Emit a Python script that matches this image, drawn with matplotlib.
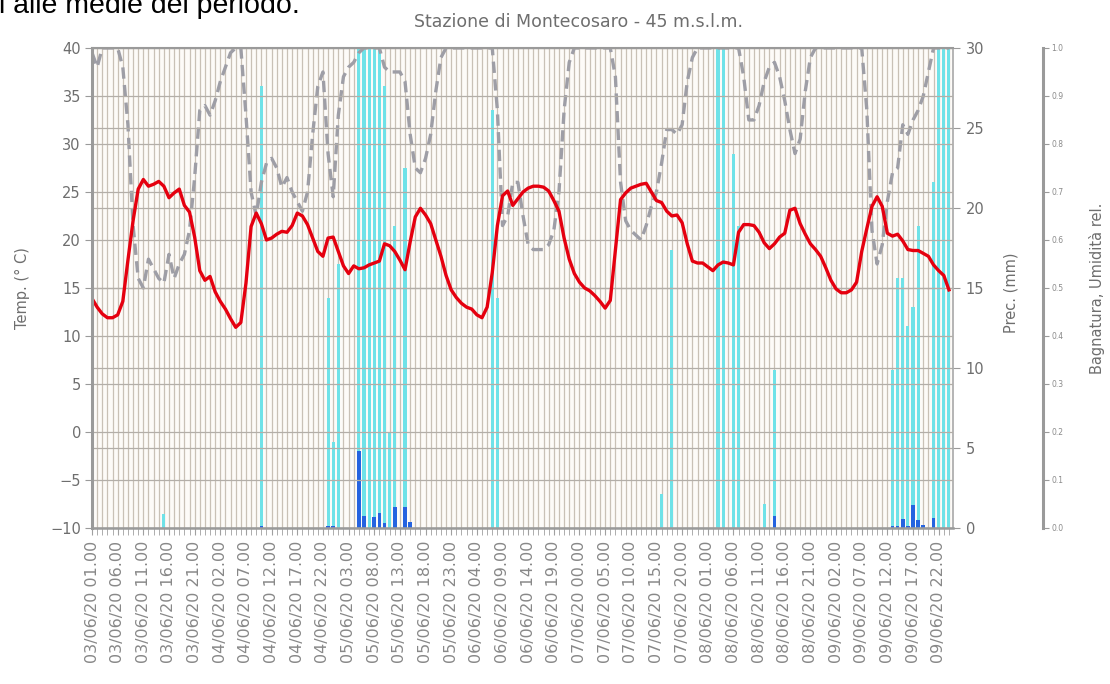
import numpy as np
import pandas as pd
import matplotlib
matplotlib.use('Agg')
import matplotlib.pyplot as plt

# dati orari: 03/06/20 01.00 -> 10/06/20 00.00
times = pd.date_range('2020-06-03 01:00', periods=168, freq='h')
hours = np.arange(len(times))

temp = [13.9, 13.0, 12.3, 11.9, 11.9, 12.2, 13.6, 17.9, 22.0, 25.3, 26.3, 25.6,
        25.8, 26.1, 25.6, 24.4, 24.9, 25.3, 23.6, 22.9, 20.3, 16.8, 15.8, 16.2,
        14.6, 13.6, 12.8, 11.8, 10.9, 11.4, 15.5, 21.4, 22.8, 21.7, 20.0, 20.2,
        20.6, 20.9, 20.8, 21.5, 22.8, 22.5, 21.6, 20.2, 18.8, 18.3, 20.2, 20.3,
        18.8, 17.3, 16.5, 17.3, 17.0, 17.1, 17.4, 17.6, 17.8, 19.6, 19.4, 18.8,
        17.9, 16.9, 19.8, 22.4, 23.3, 22.6, 21.7, 20.0, 18.3, 16.3, 14.8, 14.0,
        13.4, 13.0, 12.8, 12.2, 11.9, 13.0, 16.6, 21.5, 24.6, 25.1, 23.6, 24.3,
        25.0, 25.4, 25.6, 25.6, 25.5, 25.1, 24.1, 23.0, 20.2, 18.0, 16.5, 15.6,
        15.0, 14.7, 14.2, 13.6, 12.9, 13.7, 18.9, 24.2, 24.9, 25.4, 25.6, 25.8,
        25.9, 25.0, 24.1, 23.9, 23.0, 22.5, 22.6, 21.8, 19.6, 17.8, 17.6, 17.6,
        17.2, 16.8, 17.4, 17.7, 17.6, 17.4, 20.8, 21.6, 21.6, 21.5, 20.8, 19.7,
        19.1, 19.6, 20.3, 20.7, 23.1, 23.3, 21.7, 20.6, 19.6, 19.0, 18.3, 17.1,
        15.8, 14.9, 14.5, 14.5, 14.8, 15.6, 18.8, 21.2, 23.5, 24.5, 23.5, 20.7,
        20.4, 20.6, 19.9, 19.0, 18.9, 18.9, 18.6, 18.3, 17.4, 16.8, 16.3, 14.8]

umid = [0.99, 0.96, 1.0, 1.0, 1.0, 1.0, 0.96, 0.84, 0.63, 0.52, 0.50, 0.56,
        0.54, 0.52, 0.51, 0.57, 0.52, 0.55, 0.57, 0.62, 0.73, 0.87, 0.88, 0.86,
        0.89, 0.93, 0.96, 0.99, 1.0, 1.0, 0.86, 0.70, 0.65, 0.72, 0.76, 0.77,
        0.75, 0.71, 0.73, 0.70, 0.68, 0.66, 0.70, 0.82, 0.92, 0.95, 0.78, 0.69,
        0.86, 0.94, 0.96, 0.97, 0.99, 1.0, 1.0, 1.0, 1.0, 0.96, 0.95, 0.95,
        0.95, 0.93, 0.82, 0.75, 0.74, 0.77, 0.82, 0.91, 0.98, 1.0, 1.0, 1.0,
        1.0, 1.0, 1.0, 1.0, 1.0, 1.0, 1.0, 0.87, 0.63, 0.65, 0.72, 0.72,
        0.65, 0.59, 0.58, 0.58, 0.58, 0.59, 0.62, 0.70, 0.87, 0.97, 1.0, 1.0,
        1.0, 1.0, 1.0, 1.0, 1.0, 1.0, 0.94, 0.72, 0.64, 0.62, 0.61, 0.60,
        0.63, 0.67, 0.70, 0.76, 0.83, 0.83, 0.82, 0.84, 0.93, 0.98, 1.0, 1.0,
        1.0, 1.0, 1.0, 1.0, 1.0, 1.0, 1.0, 0.94, 0.85, 0.85, 0.88, 0.93,
        0.96, 0.97, 0.94, 0.89, 0.83, 0.78, 0.81, 0.91, 0.98, 1.0, 1.0, 1.0,
        1.0, 1.0, 1.0, 1.0, 1.0, 1.0, 1.0, 0.87, 0.62, 0.55, 0.59, 0.68,
        0.74, 0.75, 0.84, 0.82, 0.85, 0.87, 0.90, 0.95, 1.0, 1.0, 1.0, 1.0]

# bagnatura fogliare (0-1), solo le ore non nulle
bagn_ore = [14, 33, 46, 47, 48, 52, 53, 54, 55, 56, 57, 58, 59, 61,
            78, 79, 111, 113, 122, 123, 125, 126, 131, 133,
            156, 157, 158, 159, 160, 161, 164, 165, 166, 167]
bagn_val = [0.03, 0.92, 0.48, 0.18, 0.55, 1.0, 1.0, 1.0, 1.0, 1.0, 0.92, 0.2, 0.63, 0.75,
            0.87, 0.48, 0.07, 0.58, 1.0, 1.0, 0.78, 0.63, 0.05, 0.33,
            0.33, 0.52, 0.52, 0.42, 0.46, 0.63, 0.72, 1.0, 1.0, 1.0]

# precipitazione (mm)
prec_ore = [33, 46, 47, 52, 53, 55, 56, 57, 59, 61, 62, 133,
            156, 157, 158, 159, 160, 161, 162, 164]
prec_val = [0.12, 0.15, 0.15, 4.8, 0.75, 0.7, 0.95, 0.3, 1.3, 1.3, 0.35, 0.75,
            0.12, 0.12, 0.55, 0.15, 1.45, 0.5, 0.2, 0.6]

tick_ore = hours[::5]
tick_lab = [t.strftime('%d/%m/%y %H.%M') for t in times[::5]]

grigio = '#6e6e6e'
spina = '#9a9a9a'

fig = plt.figure(figsize=(11.1, 6.84), dpi=100)
ax = fig.add_axes([0.0829, 0.2281, 0.7757, 0.7018])
ax2 = ax.twinx()
ax3 = ax.twinx()

ax3.set_zorder(1)
ax2.set_zorder(2)
ax.set_zorder(3)
ax.patch.set_visible(False)
ax2.patch.set_visible(False)
ax3.patch.set_visible(True)
ax3.patch.set_facecolor('#fdfbf8')
ax3.set_axisbelow(True)
ax2.set_axisbelow(True)
ax.set_axisbelow(True)

# bagnatura e umidita (asse 0-1)
ax3.bar(bagn_ore, bagn_val, width=0.6, color='#6fe2e8', linewidth=0)
ax3.plot(hours, umid, color='#9e9ea6', lw=2.4, dashes=(3.4, 1.9))
ax3.set_ylim(0, 1)

# precipitazione
ax2.bar(prec_ore, prec_val, width=0.7, color='#2563e0', linewidth=0)
ax2.set_ylim(0, 30)

# temperatura
ax.plot(hours, temp, color='#e5000f', lw=2.4)
ax.set_ylim(-10, 40)
ax.set_xlim(0, 167.8)

ax.set_yticks(np.arange(-10, 41, 5))
ax2.set_yticks(np.arange(0, 31, 5))
ax3.set_yticks(np.arange(0, 1.01, 0.1))
ax3.set_yticklabels(['%.1f' % v for v in np.arange(0, 1.01, 0.1)])

ax.set_xticks(tick_ore)
ax.set_xticklabels(tick_lab, rotation=90)
ax.set_xticks(hours, minor=True)

# griglia
ax3.xaxis.set_visible(True)
ax3.tick_params(axis='x', which='both', length=0, labelbottom=False, labeltop=False)
ax3.grid(axis='x', which='both', color='#c9c1b6', lw=0.9)
ax.grid(axis='y', color='#b3aea8', lw=0.9)
ax2.grid(axis='y', color='#b3aea8', lw=0.9)

for a in (ax2, ax3):
    for s in ('left', 'top', 'bottom'):
        a.spines[s].set_visible(False)
ax.spines['right'].set_visible(False)
ax.spines['left'].set_color(spina)
ax.spines['left'].set_linewidth(2.2)
ax.spines['bottom'].set_color(spina)
ax.spines['bottom'].set_linewidth(1.8)
ax.spines['top'].set_color(spina)
ax.spines['top'].set_linewidth(1.5)
ax2.spines['right'].set_color('#a8a8a8')
ax2.spines['right'].set_linewidth(1.2)
ax3.spines['right'].set_position(('axes', 1.1045))
ax3.spines['right'].set_color(spina)
ax3.spines['right'].set_linewidth(2.2)

ax.tick_params(axis='y', length=5, color=spina, labelcolor=grigio, labelsize=10.5, pad=3)
ax.tick_params(axis='x', which='both', length=5, color='#a0a0a0', labelcolor='#888888',
               labelsize=11.5, pad=4)
ax2.tick_params(axis='y', length=5, color=spina, labelcolor=grigio, labelsize=10.5, pad=4)
ax3.tick_params(axis='y', length=4, color=spina, labelcolor='#8a8a8a', labelsize=5.5, pad=2)

ax.set_ylabel('Temp. (° C)', color=grigio, fontsize=10.5)
ax.yaxis.set_label_coords(-0.072, 0.5)
ax2.set_ylabel('Prec. (mm)', color=grigio, fontsize=10.5)
ax2.yaxis.set_label_coords(1.059, 0.49)
ax3.set_ylabel('Bagnatura, Umidità rel.', color=grigio, fontsize=10.5)
ax3.yaxis.set_label_coords(1.158, 0.5)

fig.text(0.521, 0.968, 'Stazione di Montecosaro - 45 m.s.l.m.', ha='center', va='center',
         color=grigio, fontsize=12.5)
fig.text(-0.001, 1 - 13 / 684, 'i alle medie del periodo.', ha='left', va='baseline',
         color='black', fontsize=20.5, family='Liberation Sans')

fig.savefig('out.png', dpi=100)
